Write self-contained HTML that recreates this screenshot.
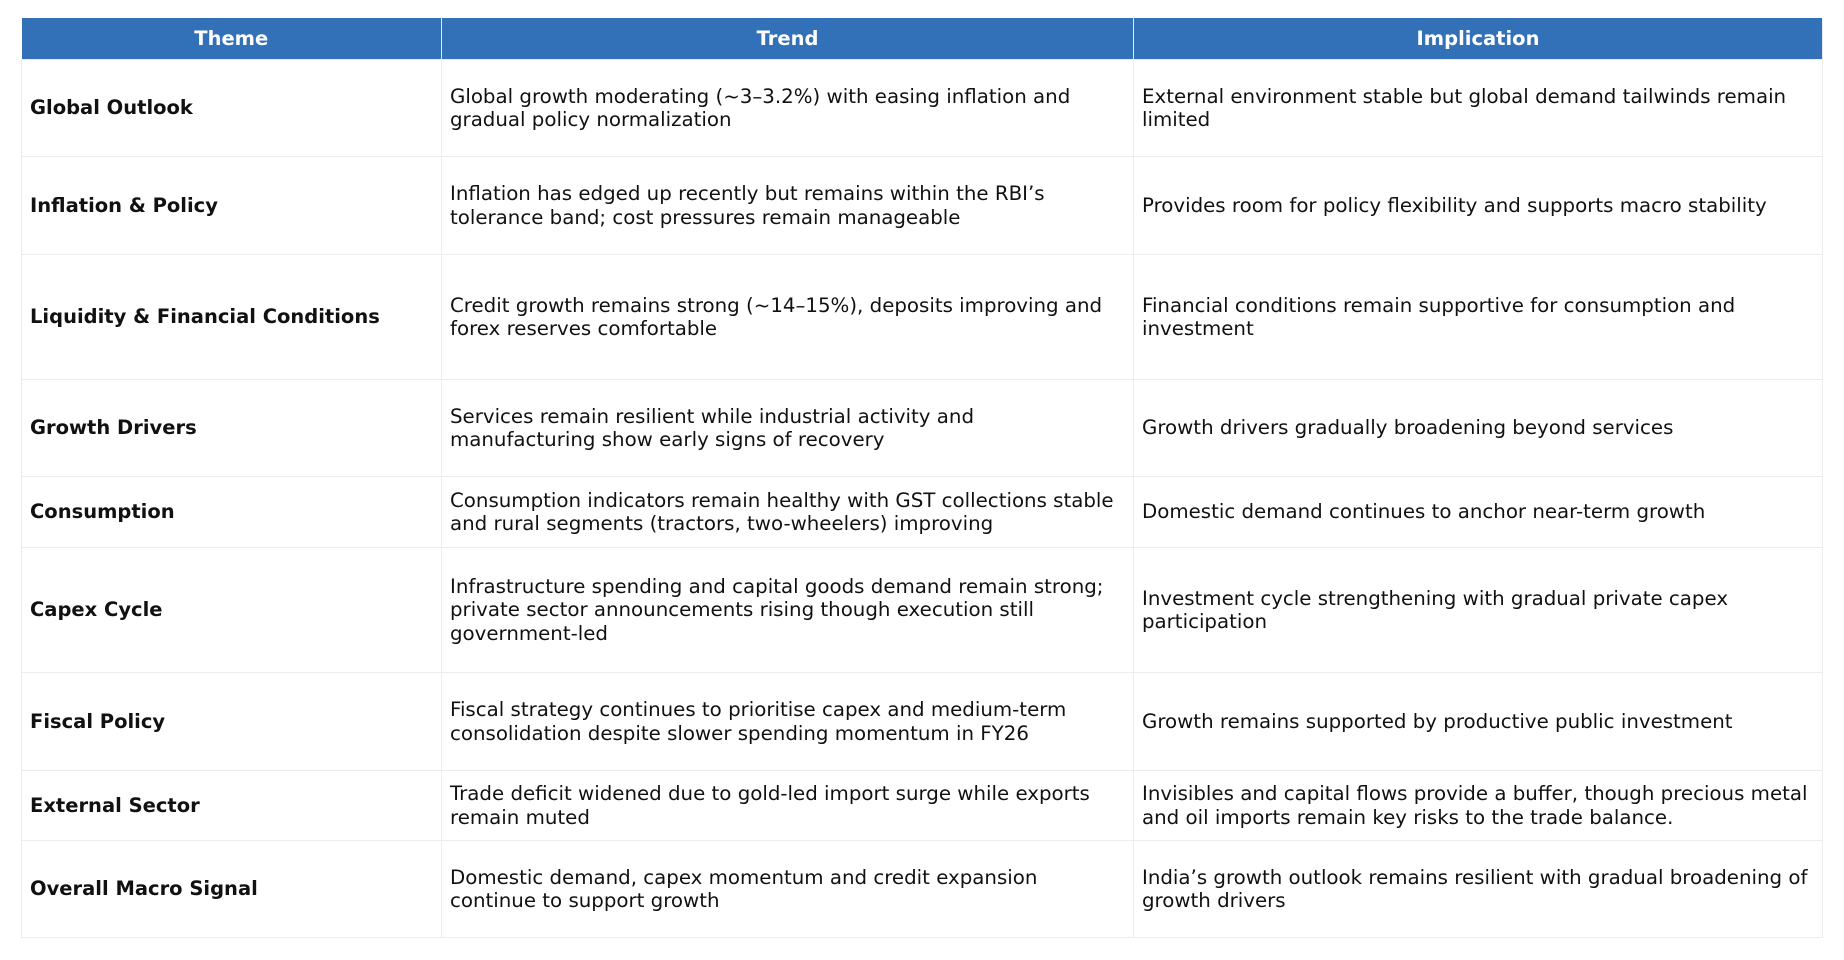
<!DOCTYPE html>
<html><head><meta charset="utf-8"><style>
body{margin:0;background:#fff;width:1844px;height:960px;overflow:hidden}
table{position:absolute;left:21px;top:18px;width:1801px;border-collapse:collapse;font-family:"DejaVu Sans","Liberation Sans",sans-serif;font-size:19.8px;color:#111;table-layout:fixed}
th{background:#3270b8;color:#fff;font-weight:bold;height:41px;padding:0;border-right:1px solid #e6eaf0;font-size:19.5px}
td{border:1px solid #ececec;padding:0 8px;vertical-align:middle;line-height:23.5px}
td:first-child{font-weight:bold;font-size:19.5px}
</style></head><body>
<table>
<colgroup><col style="width:420px"><col style="width:692px"><col style="width:689px"></colgroup>
<tr><th>Theme</th><th>Trend</th><th>Implication</th></tr>
<tr style="height:97px"><td>Global Outlook</td><td>Global growth moderating (~3–3.2%) with easing inflation and<br>gradual policy normalization</td><td>External environment stable but global demand tailwinds remain<br>limited</td></tr>
<tr style="height:98px"><td>Inflation &amp; Policy</td><td>Inflation has edged up recently but remains within the RBI’s<br>tolerance band; cost pressures remain manageable</td><td>Provides room for policy flexibility and supports macro stability</td></tr>
<tr style="height:125px"><td>Liquidity &amp; Financial Conditions</td><td>Credit growth remains strong (~14–15%), deposits improving and<br>forex reserves comfortable</td><td>Financial conditions remain supportive for consumption and<br>investment</td></tr>
<tr style="height:97px"><td>Growth Drivers</td><td>Services remain resilient while industrial activity and<br>manufacturing show early signs of recovery</td><td>Growth drivers gradually broadening beyond services</td></tr>
<tr style="height:71px"><td>Consumption</td><td>Consumption indicators remain healthy with GST collections stable<br>and rural segments (tractors, two-wheelers) improving</td><td>Domestic demand continues to anchor near-term growth</td></tr>
<tr style="height:125px"><td>Capex Cycle</td><td>Infrastructure spending and capital goods demand remain strong;<br>private sector announcements rising though execution still<br>government-led</td><td>Investment cycle strengthening with gradual private capex<br>participation</td></tr>
<tr style="height:98px"><td>Fiscal Policy</td><td>Fiscal strategy continues to prioritise capex and medium-term<br>consolidation despite slower spending momentum in FY26</td><td>Growth remains supported by productive public investment</td></tr>
<tr style="height:70px"><td>External Sector</td><td>Trade deficit widened due to gold-led import surge while exports<br>remain muted</td><td>Invisibles and capital flows provide a buffer, though precious metal<br>and oil imports remain key risks to the trade balance.</td></tr>
<tr style="height:97px"><td>Overall Macro Signal</td><td>Domestic demand, capex momentum and credit expansion<br>continue to support growth</td><td>India’s growth outlook remains resilient with gradual broadening of<br>growth drivers</td></tr>
</table>
</body></html>
